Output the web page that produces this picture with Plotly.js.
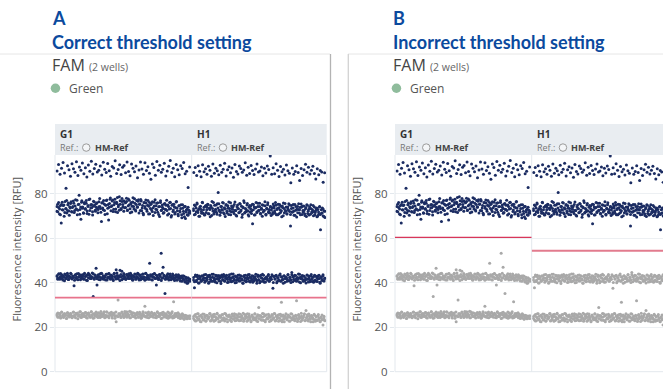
<!DOCTYPE html>
<html><head><meta charset="utf-8">
<script src="https://cdn.plot.ly/plotly-3.0.1.min.js"></script>
<style>html,body{margin:0;padding:0;background:#fff;} #chart{width:663px;height:389px;}</style>
</head><body><div id="chart"></div>
<script>
// ---------- labels ----------
const wells = ['G1', 'H1'];
const refPrefix = 'Ref.:';
const refLabel = 'HM-Ref';
const channel = 'FAM';
const wellCountLabel = '(2 wells)';
const targetLabel = 'Green';
const panelLetters = ['A', 'B'];
const panelTitles = ['Correct threshold setting', 'Incorrect threshold setting'];
const yTickVals = [0, 20, 40, 60, 80];
const yTitle = 'Fluorescence intensity [RFU]';

// ---------- thresholds (RFU) per well ----------
const thresholdsA = [33.3, 33.3];   // G1, H1 - correct
const thresholdsB = [60.4, 54.4];   // G1, H1 - incorrect

// ---------- partition fluorescence values, well G1 ----------
const g1Top = [90.2,93.1,88.7,91.5,94.0,89.3,82.4,92.6,90.8,87.9,93.5,91.2,89.6,94.4,88.2,92.0,90.5,93.8,89.0,91.7,87.5,92.9,90.1,94.6,88.9,91.3,93.2,89.8,90.6,92.4,88.4,94.1,91.0,89.5,93.6,90.3,87.8,92.2,91.6,94.8,89.1,90.9,93.0,88.6,91.9,92.7,89.4,94.3,90.0,88.1,93.3,91.4,89.9,92.5,87.2,90.7,94.2,91.1,88.8,93.9,90.4,92.1,89.2,86.5,93.4,91.8,88.3,94.5,90.6,92.8,89.7,91.0,93.7,88.0,90.2,92.3,94.9,89.5,91.5,87.6,93.1,90.8,88.5,92.6,91.3,94.0,89.0,90.1,82.8,92.0];
const g1Upper = [72.1,75.3,73.8,70.9,74.6,66.8,76.2,72.7,74.9,71.5,73.2,77.0,72.4,75.8,70.3,
73.6,76.4,71.8,74.2,75.7,72.5,77.3,73.0,70.6,75.1,79.3,72.9,68.5,76.8,74.0,
71.2,75.5,73.4,76.9,72.2,74.7,70.8,77.6,73.7,75.2,71.9,74.4,76.3,72.6,73.9,
75.9,71.4,74.1,77.8,73.3,67.5,76.0,72.8,75.4,70.7,74.8,77.2,73.5,68.2,75.6,
78.1,74.3,76.7,72.0,75.0,77.5,73.1,76.2,71.6,74.9,78.6,75.3,72.9,76.5,74.0,
76.8,73.7,75.9,78.0,72.4,74.6,77.1,73.2,75.5,71.8,76.3,74.2,77.7,72.7,75.1,
73.9,76.6,71.3,75.4,77.4,72.3,74.7,70.5,76.1,73.5,75.8,72.1,77.0,74.4,71.0,
75.2,72.8,76.4,70.2,74.5,77.3,73.0,75.7,71.7,74.1,69.8,76.0,72.6,74.9,73.4,
71.5,75.6,72.9,77.1,70.4,74.3,73.1,76.2,69.5,74.8,72.0,75.3,70.9,73.7,76.5,
72.3,70.1,74.6,71.8,75.0,69.2,73.5,71.1,74.2,68.9,72.7,70.6,73.9,71.4,72.0];
const g1Upper2 = [74.3,71.9,76.0,73.1,70.6,75.2,72.8,74.7,69.9,76.5,73.4,71.3,75.0,72.2,74.1,
75.6,72.0,73.8,76.7,71.6,74.5,73.2,77.1,72.6,75.3,70.8,74.0,76.2,73.5,71.4,
76.1,73.0,75.7,71.1,74.3,77.4,72.4,75.0,73.7,70.4,76.6,74.8,72.1,75.5,73.3,
72.9,76.4,74.2,71.7,75.8,73.6,77.0,72.5,74.9,76.9,71.0,75.1,73.9,77.5,72.3,
74.6,77.2,73.0,76.0,71.9,75.6,78.3,74.1,72.6,76.8,73.4,77.9,75.2,72.1,76.3,
73.8,76.5,72.7,77.6,75.0,71.4,76.1,74.4,78.2,73.1,75.7,72.2,76.9,74.0,77.3,
75.3,72.5,76.7,73.6,71.2,75.9,74.2,77.2,72.9,74.8,70.9,76.0,73.3,75.5,72.0,
73.7,76.2,71.5,74.6,72.8,75.9,70.7,74.3,76.8,72.4,73.9,71.2,75.4,73.0,74.8,
72.5,74.9,71.0,76.1,73.3,70.2,75.2,72.7,74.1,71.6,76.3,73.6,70.8,74.6,72.2,
73.4,70.5,75.0,72.1,69.7,74.2,71.8,73.1,70.3,72.6,71.2];
const g1Mid = [42.9,41.6,43.8,42.3,44.1,41.9,43.2,42.6,40.9,43.5,42.1,44.3,41.4,43.0,
42.5,43.9,41.7,42.8,38.6,43.4,42.0,44.0,41.3,42.7,43.6,41.8,42.4,43.1,
41.5,44.2,42.9,41.1,43.3,42.2,43.7,41.9,42.6,44.4,33.8,42.0,43.5,46.5,
39.0,42.8,41.4,43.9,42.3,44.1,41.7,43.0,42.5,41.2,43.8,42.1,44.0,42.7,
41.6,43.4,42.9,41.0,44.3,42.4,45.8,43.2,41.8,42.6,45.6,43.7,41.3,42.9,
44.1,42.2,41.5,43.6,42.8,41.9,43.3,44.2,42.0,41.4,43.0,42.5,43.8,41.7,
42.7,44.0,41.2,43.5,42.3,41.8,43.9,42.6,41.1,44.3,42.1,43.4,41.6,48.7,
42.9,41.3,43.7,42.4,44.1,41.9,39.0,43.1,42.2,41.5,43.6,53.2,42.0,46.9,
43.3,35.2,41.7,42.8,44.0,41.2,43.5,42.5,41.8,43.9,42.3,41.0,43.2,42.7,
41.4,43.6,42.1,40.8,43.0,42.4,41.6,42.9,40.5,41.9,39.8,42.2,40.9,41.5];
const g1Mid2 = [43.1,42.0,44.0,41.5,42.8,43.6,41.2,42.4,43.9,41.8,42.7,43.3,41.4,42.5,
44.2,41.9,43.0,42.3,41.1,43.7,42.6,41.6,44.1,42.9,41.3,43.5,42.2,43.8,
41.7,42.8,43.4,41.0,44.3,42.1,43.1,41.9,42.6,44.0,41.5,43.2,42.4,41.8,
43.6,42.7,41.3,44.2,42.0,43.0,41.6,42.9,43.8,41.2,42.5,44.1,41.9,43.4,
42.2,41.4,43.9,42.8,41.7,44.4,42.3,43.1,41.0,42.6,45.2,41.8,43.5,42.4,
41.5,43.7,42.1,44.0,41.9,42.9,43.3,41.1,42.5,43.9,41.6,42.8,44.2,42.0,
43.2,41.3,42.7,43.8,41.8,42.4,44.1,41.5,43.0,42.2,41.7,43.6,42.9,41.2,
42.6,44.0,41.9,43.3,42.1,41.4,43.7,42.8,41.0,44.2,42.3,43.1,41.6,42.7,
43.5,41.8,42.4,43.9,41.3,42.9,43.2,41.5,42.0,43.6,41.1,42.6,43.0,41.9,
42.2,40.7,43.1,41.4,40.3,42.5,41.0,39.9,41.8,40.6];
const g1Low = [25.3,26.4,24.6,25.9,24.1,26.8,25.0,24.4,26.1,25.6,23.9,26.5,25.2,24.8,
26.0,25.4,24.3,26.7,25.1,24.7,26.3,25.8,23.8,25.5,26.9,24.5,25.7,26.2,
24.9,25.3,26.6,24.2,25.9,26.4,25.0,24.6,27.0,25.6,24.0,26.1,25.2,26.8,
25.7,24.4,26.3,25.1,27.1,24.8,25.9,26.5,24.3,25.4,26.9,25.0,24.7,26.2,
25.5,26.7,24.1,25.8,26.4,25.2,22.5,24.9,32.2,26.0,25.3,24.6,26.8,25.7,
24.4,26.3,25.1,26.9,24.8,25.6,27.2,24.2,25.9,26.5,25.0,24.7,26.1,25.4,
26.6,24.5,25.8,26.2,24.0,25.3,26.9,25.0,29.4,24.6,26.4,25.5,24.3,26.0,
25.2,26.7,24.9,25.7,26.3,24.4,25.1,27.0,24.8,26.0,25.4,23.9,26.5,25.6,
24.7,26.1,25.3,24.2,26.8,25.0,24.5,25.9,26.4,24.1,31.4,25.5,24.8,26.2,
25.1,24.3,25.8,23.9,24.6,26.0,24.9,23.6,25.4,24.2,23.8,25.0,24.4,23.9];
const g1Low2 = [25.8,24.5,26.3,25.1,24.2,26.7,25.5,24.8,26.0,25.3,24.0,26.5,25.7,24.6,
26.2,25.0,24.7,26.8,25.4,24.3,25.9,26.4,24.9,25.6,26.9,24.4,25.2,26.1,
24.8,26.6,25.3,24.1,26.3,25.7,24.5,26.9,25.0,25.9,24.3,26.2,25.5,24.7,
26.5,25.1,24.4,26.0,25.8,24.9,27.0,25.4,24.6,26.7,25.2,24.2,26.4,25.6,
24.9,26.3,25.5,24.0,26.8,25.1,24.7,26.1,25.9,24.4,26.6,25.3,24.8,27.1,
25.7,24.5,26.2,25.0,24.3,26.9,25.6,24.8,26.4,25.2,24.1,26.0,25.8,24.6,
26.7,25.3,24.2,26.1,25.5,24.9,26.5,25.0,24.4,26.8,25.7,24.7,26.3,25.1,
24.5,26.0,25.6,24.3,26.6,25.2,24.8,26.2,25.9,24.1,26.7,25.4,24.6,26.1,
25.3,24.0,26.4,25.7,24.7,26.9,25.0,24.4,26.2,25.5,24.9,26.5,25.1,24.2,
25.2,24.1,25.6,23.8,24.7,25.3,23.9,24.5,24.0,25.1];

// ---------- partition fluorescence values, well H1 ----------
const h1Top = [89.5,91.8,88.2,92.6,90.1,87.6,93.0,89.9,91.2,88.7,92.3,90.6,87.9,93.4,89.2,91.5,90.3,88.5,92.8,89.7,91.0,93.7,88.0,90.8,92.1,89.4,91.6,87.4,93.1,90.0,88.9,92.4,91.3,89.6,90.7,93.9,88.3,91.9,89.1,92.7,90.4,88.6,91.1,93.3,89.8,90.2,92.0,88.1,91.4,89.3,92.5,90.9,97.0,88.8,91.7,89.0,93.5,90.5,87.7,92.2,89.9,91.0,88.4,92.9,90.3,89.2,84.9,91.6,88.7,90.0,92.6,89.5,85.9,91.3,88.2,90.8,93.2,89.7,91.9,88.9,90.6,92.3,89.1,86.6,91.2,88.5,90.4,89.8,85.1,89.4];
const h1Upper = [72.4,74.9,70.8,73.6,75.8,71.5,73.1,69.9,74.4,72.0,76.2,71.2,73.9,70.5,74.7,
72.8,75.3,71.0,73.5,69.6,74.1,76.5,72.2,70.9,74.8,73.0,71.7,75.5,80.6,72.6,
70.3,74.3,72.9,76.0,71.4,73.7,69.8,75.1,72.1,74.6,70.7,73.3,75.9,71.9,73.8,
74.2,71.1,76.3,72.5,70.0,74.9,73.2,71.6,75.4,72.7,69.4,74.0,76.8,71.3,73.4,
72.0,75.6,70.6,73.9,71.8,74.5,72.3,66.5,75.2,70.4,73.6,76.1,71.9,74.3,72.6,
75.7,71.2,73.0,69.9,74.8,72.4,76.4,70.8,73.5,75.0,71.5,72.9,74.1,70.2,73.7,
71.6,74.6,72.2,76.0,70.5,73.3,75.3,71.0,72.8,74.4,69.7,73.8,75.8,71.4,72.5,
74.0,70.9,73.1,75.5,72.0,65.5,74.7,71.7,73.6,70.3,75.1,72.6,69.5,74.2,72.9,
71.3,73.9,75.4,70.7,72.4,74.5,71.0,73.2,69.8,74.8,72.1,70.4,73.5,75.0,71.8,
72.7,70.1,74.0,71.5,73.4,69.6,72.9,70.8,74.3,63.8,71.2,73.6,70.0,72.2,69.3];
const h1Upper2 = [73.2,70.6,74.6,71.9,75.4,72.5,69.9,74.0,73.0,71.2,75.9,72.8,70.4,74.4,71.6,
73.9,75.2,71.0,72.9,74.7,70.2,73.4,76.1,71.8,72.4,74.9,70.8,73.6,75.5,72.0,
71.5,74.2,72.7,75.8,70.9,73.1,74.8,71.3,73.5,76.3,72.2,70.5,74.5,73.0,71.9,
75.1,72.6,70.3,74.1,73.3,71.4,75.6,72.1,74.4,70.7,73.7,76.0,71.7,72.9,74.9,
72.3,70.0,74.7,73.2,71.1,75.3,72.8,74.0,70.6,73.8,71.5,75.7,72.5,74.3,70.9,
73.5,75.0,71.8,72.4,74.6,70.4,73.1,75.9,72.0,71.3,74.2,72.7,70.8,75.4,73.6,
71.2,74.8,72.9,70.5,73.7,75.2,71.6,72.3,74.5,70.1,73.4,75.6,72.1,71.0,74.0,
72.6,74.9,70.7,73.3,71.9,75.1,72.2,70.3,74.3,73.0,71.4,75.5,72.8,70.6,73.9,
74.4,71.7,72.5,70.2,73.8,75.0,71.1,72.9,74.1,70.8,73.2,71.5,74.7,72.0,70.4,
72.4,73.6,70.0,71.8,74.0,70.7,72.8,71.3,73.1,69.8,72.1];
const h1Mid = [41.2,37.7,42.9,40.5,43.4,41.8,39.9,42.6,40.8,43.1,41.5,42.2,40.2,43.7,
41.0,42.7,39.8,43.3,41.6,40.6,42.4,43.8,41.1,40.3,42.9,41.7,43.2,40.9,
42.1,39.6,43.5,41.4,42.8,40.7,43.0,41.9,40.1,42.5,43.6,41.3,40.4,42.3,
43.9,41.5,40.0,42.6,41.2,43.4,40.8,42.0,43.1,41.7,39.9,42.8,41.0,43.3,
40.6,42.4,41.8,43.7,40.3,42.2,41.4,43.0,40.9,42.7,41.6,39.7,43.5,41.1,
42.9,40.5,42.1,43.8,41.3,40.2,41.8,42.5,41.9,43.2,40.7,42.0,41.5,43.6,
37.5,42.8,41.7,43.1,40.0,42.3,41.2,43.4,40.8,42.6,41.4,39.8,43.0,41.9,
42.4,40.6,43.7,41.0,42.2,40.1,44.6,42.7,41.6,43.3,40.9,42.0,41.3,43.9,
40.3,42.5,41.8,43.2,40.7,42.9,41.1,39.9,43.5,41.5,42.1,40.4,43.0,41.7,
42.6,40.2,43.4,41.2,42.8,40.5,43.1,41.9,39.7,42.3,41.0,43.6,40.8,42.0];
const h1Mid2 = [42.3,40.4,43.5,41.1,42.7,39.9,43.0,41.7,40.6,42.9,41.3,43.6,40.8,42.1,
41.6,43.2,40.2,42.5,41.0,43.8,40.7,42.2,41.5,43.4,40.0,42.8,41.8,43.1,
40.5,42.6,41.2,43.7,40.9,42.0,43.3,41.4,40.3,42.4,41.9,43.9,40.6,42.7,
41.1,43.0,40.1,42.3,41.7,43.5,40.8,42.9,41.3,39.8,43.2,42.0,40.4,41.8,
43.6,40.7,42.5,41.0,43.1,40.2,42.2,41.6,43.8,40.9,42.8,41.4,40.0,43.3,
42.1,40.6,43.4,41.9,40.3,42.6,41.2,43.7,40.8,42.4,41.5,43.0,40.1,42.9,
41.7,43.3,40.5,42.2,41.0,43.9,40.7,42.7,41.4,43.1,40.2,42.0,41.8,43.5,
40.9,42.5,41.3,43.6,40.4,42.8,41.1,43.2,40.6,42.3,41.9,43.8,40.0,42.6,
41.5,43.0,40.8,42.1,41.6,43.4,40.3,42.9,41.2,43.7,40.5,42.4,41.0,43.1,
40.7,42.2,41.8,43.3,40.2,42.7,41.4,43.0,40.9,42.0];
const h1Low = [24.8,23.2,25.7,22.9,24.3,26.1,23.6,25.0,22.4,24.6,25.9,23.4,24.9,22.7,
25.4,23.9,24.2,26.0,22.8,25.2,23.5,24.7,25.8,23.0,24.4,26.3,23.7,25.1,
22.6,24.5,25.6,23.3,24.0,26.2,23.8,25.3,22.5,24.8,25.5,23.1,24.1,25.9,
23.6,24.9,22.9,25.7,24.3,23.4,26.0,24.6,23.0,25.2,24.0,22.7,25.8,23.9,
24.7,26.1,23.2,25.0,24.4,22.8,25.5,23.7,24.2,25.9,23.3,24.8,22.6,28.8,
25.3,23.5,24.6,26.2,23.1,24.9,22.4,25.6,24.1,23.8,25.1,24.5,22.9,25.7,
23.6,24.3,26.0,23.0,24.7,25.4,22.7,24.0,25.8,31.2,23.4,24.8,22.5,25.2,
24.4,23.9,25.5,22.8,24.6,26.1,23.3,24.1,25.0,23.7,24.9,31.9,22.6,25.3,
23.8,24.5,26.3,23.1,24.2,25.6,22.9,27.5,24.7,23.5,25.9,24.0,22.4,25.1,
24.3,23.6,25.4,22.7,24.8,23.2,25.7,24.1,22.5,24.6,23.4,21.0,24.9,23.0];
const h1Low2 = [23.9,25.3,22.8,24.6,26.0,23.4,24.9,22.6,25.5,24.1,23.2,25.8,24.4,22.9,
25.1,23.7,24.7,26.2,23.0,24.3,25.6,22.7,24.8,23.5,25.9,24.0,22.5,25.2,
24.5,23.1,25.7,24.2,22.8,26.1,23.6,24.9,25.4,23.3,24.6,22.6,25.0,23.8,
26.0,24.3,23.0,25.3,24.7,22.9,25.8,23.5,24.1,26.3,23.2,24.8,25.5,22.7,
24.4,25.9,23.7,22.5,25.1,24.6,23.3,26.1,24.0,22.8,25.6,23.9,24.9,25.2,
23.1,24.5,26.0,22.9,25.4,23.6,24.2,25.8,22.6,24.7,23.4,25.3,24.0,26.2,
22.8,25.0,23.8,24.4,25.7,23.0,24.9,22.5,25.5,23.7,24.1,26.1,23.3,24.6,
25.2,22.7,24.3,25.9,23.5,24.8,22.9,25.4,24.0,23.2,25.7,24.5,22.6,25.0,
23.9,24.7,26.0,23.1,24.2,25.6,22.8,24.9,23.6,25.3,24.4,22.5,25.8,23.4,
24.6,23.0,25.1,23.8,22.7,24.3,25.5,23.5,24.1,22.9];

// ---------- build ----------
const W = 663, H = 389;
const px = v => v / W;
const py = v => 1 - v / H;
const POS = '#1b2c62', NEG = '#a9a9a9';
const wellData = [
  [g1Top, g1Upper, g1Upper2, g1Mid, g1Mid2, g1Low, g1Low2],
  [h1Top, h1Upper, h1Upper2, h1Mid, h1Mid2, h1Low, h1Low2]
];

function wellTrace(clusters, thr, xa, ya) {
  const xs = [], ys = [];
  clusters.forEach(arr => arr.forEach((v, i) => { xs.push((i + 0.5) / arr.length); ys.push(v); }));
  return {
    type: 'scatter', mode: 'markers', x: xs, y: ys, xaxis: xa, yaxis: ya,
    marker: { size: 3, color: ys.map(v => v > thr ? POS : NEG), line: { width: 0 } },
    hoverinfo: 'skip', showlegend: false
  };
}

const traces = [
  wellTrace(wellData[0], thresholdsA[0], 'x', 'y'),
  wellTrace(wellData[1], thresholdsA[1], 'x2', 'y'),
  wellTrace(wellData[0], thresholdsB[0], 'x3', 'y2'),
  wellTrace(wellData[1], thresholdsB[1], 'x4', 'y2')
];

// panel geometry in pixels
const panels = [
  { left: 55, mid: 191.7, right: 326.7, textX: 50, titleX: 50, yTitleX: 15.5, lineL: 0, lineR: 330 },
  { left: 395, mid: 531.7, right: 663, textX: 391, titleX: 391, yTitleX: 355.5, lineL: 348, lineR: 663 }
];
const plotTop = 155, plotBottom = 371.7;

const yAxisBase = {
  range: [0, 97.4], domain: [py(plotBottom), py(plotTop)], tickvals: yTickVals,
  showgrid: true, gridcolor: '#edf0f3', gridwidth: 1, zeroline: false, showline: false,
  ticks: 'outside', ticklen: 4, tickcolor: '#e3e8ed',
  tickfont: { family: 'Open Sans', size: 11.5, color: '#555555' }
};
const xBase = { visible: false, fixedrange: true };

const shapes = [], annotations = [];
const line = (x0, y0, x1, y1, color, width) => shapes.push({ type: 'line', xref: 'paper', yref: 'paper', x0: px(x0), x1: px(x1), y0: py(y0), y1: py(y1), line: { color, width } });

panels.forEach((p, k) => {
  line(p.lineL, 54, p.lineR, 54, '#e6e6e6', 1);
  shapes.push({ type: 'rect', xref: 'paper', yref: 'paper', x0: px(p.left), x1: px(p.right), y0: py(155), y1: py(124), fillcolor: '#e9edf1', line: { width: 0 }, layer: 'below' });
  line(p.left, plotTop, p.left, plotBottom, '#e3e8ed', 1);
  line(p.mid, plotTop, p.mid, plotBottom, '#e3e8ed', 1);
  if (k === 0) line(p.right, plotTop, p.right, plotBottom, '#e3e8ed', 1);
  line(p.left, plotBottom, p.right, plotBottom, '#e3e8ed', 1);

  annotations.push({ xref: 'paper', yref: 'paper', x: px(p.titleX), y: py(18), xanchor: 'left', yanchor: 'middle', showarrow: false,
    text: '<b>' + panelLetters[k] + '</b>', font: { family: 'Lato', size: 18, color: '#0b4a9e' } });
  annotations.push({ xref: 'paper', yref: 'paper', x: px(p.titleX), y: py(41.5), xanchor: 'left', yanchor: 'middle', showarrow: false,
    text: '<b>' + panelTitles[k] + '</b>', font: { family: 'Lato', size: 18, color: '#0b4a9e' } });
  annotations.push({ xref: 'paper', yref: 'paper', x: px(p.textX), y: py(65), xanchor: 'left', yanchor: 'middle', showarrow: false,
    text: channel + ' <span style="font-size:10.5px;color:#666">' + wellCountLabel + '</span>', font: { family: 'Open Sans', size: 16, color: '#444444' } });
  shapes.push({ type: 'circle', xref: 'paper', yref: 'paper', x0: px(p.textX + 0.7), x1: px(p.textX + 10.2), y0: py(83.5), y1: py(93), fillcolor: '#8fbc9c', line: { width: 0 } });
  annotations.push({ xref: 'paper', yref: 'paper', x: px(p.textX + 17), y: py(88.3), xanchor: 'left', yanchor: 'middle', showarrow: false,
    text: targetLabel, font: { family: 'Open Sans', size: 12, color: '#555555' } });
  [p.left, p.mid].forEach((wx, w) => {
    annotations.push({ xref: 'paper', yref: 'paper', x: px(wx + 3), y: py(134.3), xanchor: 'left', yanchor: 'middle', showarrow: false,
      text: '<b>' + wells[w] + '</b>', font: { family: 'Open Sans', size: 10, color: '#333333' } });
    annotations.push({ xref: 'paper', yref: 'paper', x: px(wx + 3), y: py(147.5), xanchor: 'left', yanchor: 'middle', showarrow: false,
      text: refPrefix, font: { family: 'Open Sans', size: 9, color: '#777777' } });
    shapes.push({ type: 'circle', xref: 'paper', yref: 'paper', x0: px(wx + 27.5), x1: px(wx + 35), y0: py(143.8), y1: py(151.3), fillcolor: '#f4f6f8', line: { color: '#9a9a9a', width: 1 } });
    annotations.push({ xref: 'paper', yref: 'paper', x: px(wx + 37.5), y: py(147.5), xanchor: 'left', yanchor: 'middle', showarrow: false,
      text: '<b>' + refLabel + '</b>', font: { family: 'Open Sans', size: 9, color: '#444444' } });
  });
  annotations.push({ xref: 'paper', yref: 'paper', x: px(p.yTitleX), y: py(249), xanchor: 'center', yanchor: 'middle', showarrow: false, textangle: -90,
    text: yTitle, font: { family: 'Open Sans', size: 11, color: '#555555' } });
});

line(330.5, 54, 330.5, 389, '#b3b3b3', 1.3);
line(348.3, 54, 348.3, 389, '#d2d2d2', 1.3);

shapes.push({ type: 'line', xref: 'x', yref: 'y', x0: -0.01, x1: 1.01, y0: thresholdsA[0], y1: thresholdsA[0], line: { color: '#e8738c', width: 1.8 } });
shapes.push({ type: 'line', xref: 'x2', yref: 'y', x0: -0.01, x1: 1.01, y0: thresholdsA[1], y1: thresholdsA[1], line: { color: '#e8738c', width: 1.8 } });
shapes.push({ type: 'line', xref: 'x3', yref: 'y2', x0: -0.01, x1: 1.01, y0: thresholdsB[0], y1: thresholdsB[0], line: { color: '#d8375a', width: 1.3 } });
shapes.push({ type: 'line', xref: 'x4', yref: 'y2', x0: -0.01, x1: 1.01, y0: thresholdsB[1], y1: thresholdsB[1], line: { color: '#e27b8e', width: 2 } });

const layout = {
  width: W, height: H, margin: { l: 0, r: 0, t: 0, b: 0 },
  paper_bgcolor: '#ffffff', plot_bgcolor: 'rgba(0,0,0,0)', showlegend: false,
  xaxis: Object.assign({}, xBase, { domain: [px(55), px(191.7)], range: [-0.01, 1.01], anchor: 'y' }),
  xaxis2: Object.assign({}, xBase, { domain: [px(191.7), px(326.7)], range: [-0.01, 1.01], anchor: 'y' }),
  xaxis3: Object.assign({}, xBase, { domain: [px(395), px(531.7)], range: [-0.01, 1.01], anchor: 'y2' }),
  xaxis4: Object.assign({}, xBase, { domain: [px(531.7), 1], range: [-0.01, 0.982], anchor: 'y2' }),
  yaxis: Object.assign({}, yAxisBase, { anchor: 'x' }),
  yaxis2: Object.assign({}, yAxisBase, { anchor: 'x3' }),
  shapes, annotations
};

Plotly.newPlot('chart', traces, layout, { staticPlot: true, displayModeBar: false });
</script></body></html>
